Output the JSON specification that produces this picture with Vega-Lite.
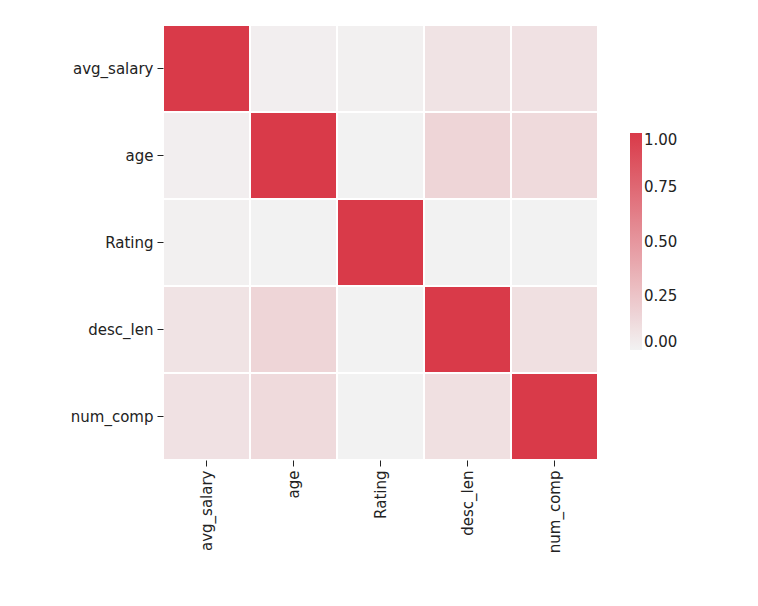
{
"$schema":"https://vega.github.io/schema/vega-lite/v6.json",
"width":435,"height":435,
"autosize":{"type":"none"},
"padding":{"left":163,"top":25,"right":160,"bottom":146},
"background":"white",
"data":{"values":[
{"x":"avg_salary","y":"avg_salary","v":1},{"x":"age","y":"avg_salary","v":0.02},{"x":"Rating","y":"avg_salary","v":0.01},{"x":"desc_len","y":"avg_salary","v":0.08},{"x":"num_comp","y":"avg_salary","v":0.09},
{"x":"avg_salary","y":"age","v":0.02},{"x":"age","y":"age","v":1},{"x":"Rating","y":"age","v":0.0},{"x":"desc_len","y":"age","v":0.16},{"x":"num_comp","y":"age","v":0.13},
{"x":"avg_salary","y":"Rating","v":0.01},{"x":"age","y":"Rating","v":0.0},{"x":"Rating","y":"Rating","v":1},{"x":"desc_len","y":"Rating","v":0.0},{"x":"num_comp","y":"Rating","v":0.0},
{"x":"avg_salary","y":"desc_len","v":0.08},{"x":"age","y":"desc_len","v":0.16},{"x":"Rating","y":"desc_len","v":0.0},{"x":"desc_len","y":"desc_len","v":1},{"x":"num_comp","y":"desc_len","v":0.1},
{"x":"avg_salary","y":"num_comp","v":0.09},{"x":"age","y":"num_comp","v":0.13},{"x":"Rating","y":"num_comp","v":0.0},{"x":"desc_len","y":"num_comp","v":0.1},{"x":"num_comp","y":"num_comp","v":1}
]},
"mark":{"type":"rect","stroke":"white","strokeWidth":2},
"encoding":{
"x":{"field":"x","type":"nominal","sort":["avg_salary","age","Rating","desc_len","num_comp"],"title":null,
"axis":{"labelAngle":-90,"labelFontSize":15,"labelFont":"DejaVu Sans","labelColor":"#222","domain":false,"tickColor":"#222","tickSize":6,"labelPadding":4}},
"y":{"field":"y","type":"nominal","sort":["avg_salary","age","Rating","desc_len","num_comp"],"title":null,
"axis":{"labelFontSize":15,"labelFont":"DejaVu Sans","labelColor":"#222","domain":false,"tickColor":"#222","tickSize":6,"labelPadding":4}},
"color":{"field":"v","type":"quantitative","title":null,
"scale":{"domain":[0,1],"range":["#f2f2f2","#d93a49"],"interpolate":"rgb"},
"legend":{"orient":"none","legendX":467,"legendY":108,"gradientLength":217,"gradientThickness":12,"values":[0,0.25,0.5,0.75,1],"format":".2f","labelFontSize":15,"labelFont":"DejaVu Sans","labelColor":"#222","gradientStrokeWidth":0}}
},
"config":{"view":{"stroke":null},"scale":{"bandPaddingInner":0,"bandPaddingOuter":0}}
}
